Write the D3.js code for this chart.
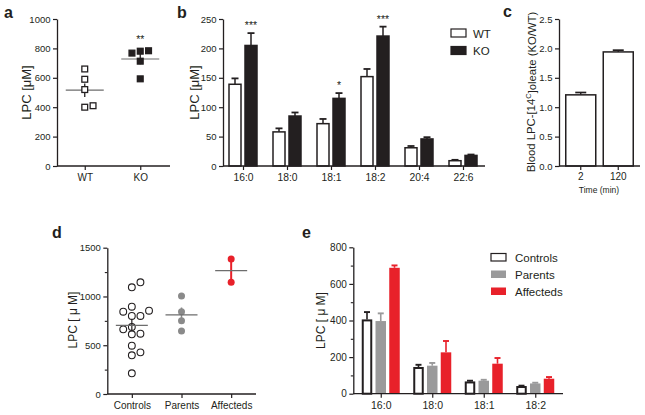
<!DOCTYPE html>
<html><head><meta charset="utf-8">
<script src="https://cdn.jsdelivr.net/npm/d3@7"></script>
<style>
html,body{margin:0;padding:0;background:#fff;}
svg{display:block;font-family:"Liberation Sans",Arial,Helvetica,sans-serif;}
.tick text{fill:#231f20;}
</style></head>
<body>
<svg id="fig" width="645" height="415"></svg>
<script>
// ---------- DATA ----------
// Panel a
const aGroups = ["WT", "KO"];
const aWT = [660, 590, 520, 400, 410];
const aKO = [781, 784, 768, 713, 593];
const aMeans = [516, 728];
const aSEM = [46, 35];
const aTicks = [0, 200, 400, 600, 800, 1000];
const aStars = ["", "**"];

// Panel b
const bCategories = ["16:0", "18:0", "18:1", "18:2", "20:4", "22:6"];
const bSeries = ["WT", "KO"];
const bWT = [139, 58, 72, 152, 31, 9];
const bWTErr = [10, 6, 8, 13, 3, 1.5];
const bKO = [205, 85, 115, 221, 46, 18];
const bKOErr = [21, 6, 9, 16, 3, 1.5];
const bStars = ["***", "", "*", "***", "", ""];
const bTicks = [0, 50, 100, 150, 200, 250];

// Panel c
const cTimes = ["2", "120"];
const cRatio = [1.21, 1.94];
const cErr = [0.04, 0.03];
const cTicks = [0, 0.5, 1.0, 1.5, 2.0, 2.5];

// Panel d
const dGroups = ["Controls", "Parents", "Affecteds"];
const dControls = [1094, 1145, 895, 800, 800, 844, 854, 612, 618, 663, 687, 495, 397, 427, 212];
const dParents = [1005, 844, 752, 646];
const dAffecteds = [1384, 1145];
const dMeans = [703, 812, 1264];
const dSEM = [60, 75, 120];
const dTicks = [0, 500, 1000, 1500];
const dMinorTicks = [250, 750, 1250];

// Panel e
const eCategories = ["16:0", "18:0", "18:1", "18:2"];
const eSeries = ["Controls", "Parents", "Affecteds"];
const eControls = [406, 146, 67, 42];
const eControlsErr = [40, 12, 4, 2];
const eParents = [397, 153, 71, 56];
const eParentsErr = [42, 15, 5, 4];
const eAffecteds = [688, 226, 164, 82];
const eAffectedsErr = [13, 62, 31, 9];
const eTicks = [0, 200, 400, 600, 800];
const eMinorTicks = [100, 300, 500, 700];

// ---------- STYLE ----------
const INK = "#231f20";
const RED = "#e8212a";
const GREY_DOT = "#8a8a8a";
const GREY_BAR = "#9a9a9b";
const MEANLINE = "#6d6d6d";

const svg = d3.select("#fig");

function yAxis(g, scale, x, ticks, fmt, fs, minor) {
  const ax = d3.axisLeft(scale).tickValues(ticks).tickSize(4).tickSizeOuter(0).tickPadding(2.5).tickFormat(fmt);
  const G = g.append("g").attr("transform", `translate(${x},0)`).call(ax);
  G.select(".domain").attr("stroke", INK).attr("stroke-width", 1.3);
  G.selectAll(".tick line").attr("stroke", INK).attr("stroke-width", 1.2);
  G.selectAll(".tick text").attr("font-size", fs).attr("fill", INK);
  if (minor) {
    const M = g.append("g").attr("transform", `translate(${x},0)`)
      .call(d3.axisLeft(scale).tickValues(minor).tickSize(2.5).tickFormat(""));
    M.select(".domain").remove();
    M.selectAll(".tick line").attr("stroke", INK).attr("stroke-width", 1.1);
  }
}
function xAxis(g, scale, y, x0, x1, fs, pad) {
  g.append("line").attr("x1", x0).attr("x2", x1).attr("y1", y).attr("y2", y)
    .attr("stroke", INK).attr("stroke-width", 1.3);
  const ax = d3.axisBottom(scale).tickSize(4).tickSizeOuter(0).tickPadding(pad || 3);
  const G = g.append("g").attr("transform", `translate(0,${y})`).call(ax);
  G.select(".domain").remove();
  G.selectAll(".tick line").attr("stroke", INK).attr("stroke-width", 1.2);
  G.selectAll(".tick text").attr("font-size", fs).attr("fill", INK);
}
function yLabel(g, text, x, y, fs) {
  return g.append("text").attr("transform", `translate(${x},${y}) rotate(-90)`)
    .attr("text-anchor", "middle").attr("dy", "0.35em")
    .attr("font-size", fs).attr("fill", INK).text(text);
}
function panelLetter(text, x, y) {
  svg.append("text").attr("x", x).attr("y", y).attr("font-size", 16)
    .attr("font-weight", "bold").attr("fill", INK).text(text);
}
function swarm(values, y, step, minDist) {
  const placed = [];
  const cands = [0];
  for (let k = 1; k < 8; k++) cands.push(k * step, -k * step);
  return values.map(v => {
    const py = y(v);
    for (const dx of cands) {
      if (placed.every(p => Math.hypot(p.dx - dx, p.py - py) >= minDist)) {
        placed.push({dx, py}); return dx;
      }
    }
    placed.push({dx: 0, py}); return 0;
  });
}
function errUp(g, cx, yTop, yErr, cap, color, w) {
  g.append("line").attr("x1", cx).attr("x2", cx).attr("y1", yTop).attr("y2", yErr)
    .attr("stroke", color).attr("stroke-width", w);
  g.append("line").attr("x1", cx - cap / 2).attr("x2", cx + cap / 2).attr("y1", yErr).attr("y2", yErr)
    .attr("stroke", color).attr("stroke-width", w + 0.3);
}

// ---------- PANEL A ----------
{
  const g = svg.append("g");
  const y = d3.scaleLinear().domain([0, 1000]).range([166, 19]);
  const x = d3.scalePoint().domain(aGroups).range([57, 168]).padding(0.5);
  yAxis(g, y, 57, aTicks, d3.format("d"), 9.5);
  xAxis(g, x, 166, 57, 170, 10, 3.5);
  yLabel(g, "LPC [μM]", 26, 92.5, 13);
  const sets = [aWT, aKO];
  sets.forEach((vals, i) => {
    const cx = x(aGroups[i]);
    g.append("line").attr("x1", cx - 19).attr("x2", cx + 19).attr("y1", y(aMeans[i])).attr("y2", y(aMeans[i]))
      .attr("stroke", MEANLINE).attr("stroke-width", 1.2);
    g.append("line").attr("x1", cx).attr("x2", cx).attr("y1", y(aMeans[i] - aSEM[i])).attr("y2", y(aMeans[i] + aSEM[i]))
      .attr("stroke", INK).attr("stroke-width", 1.3);
    const offs = swarm(vals, y, 8.3, 6.5);
    const s = 5.8;
    vals.forEach((v, j) => {
      g.append("rect").attr("x", cx + offs[j] - s / 2).attr("y", y(v) - s / 2).attr("width", s).attr("height", s)
        .attr("fill", i === 0 ? "#fff" : INK).attr("stroke", INK).attr("stroke-width", 1.3);
    });
    if (aStars[i]) g.append("text").attr("x", cx).attr("y", 43).attr("text-anchor", "middle")
      .attr("font-size", 10.5).attr("fill", INK).text(aStars[i]);
  });
  panelLetter("a", 4, 17.5);
}

// ---------- PANEL B ----------
{
  const g = svg.append("g");
  const y = d3.scaleLinear().domain([0, 250]).range([166, 19]);
  const x = d3.scalePoint().domain(bCategories).range([221, 485]).padding(0.5);
  const bw = 12;
  bCategories.forEach((c, i) => {
    const cx = x(c);
    errUp(g, cx - 8, y(bWT[i]), y(bWT[i] + bWTErr[i]), 7, INK, 1.5);
    g.append("rect").attr("x", cx - 14).attr("y", y(bWT[i])).attr("width", bw).attr("height", y(0) - y(bWT[i]))
      .attr("fill", "#fff").attr("stroke", INK).attr("stroke-width", 1.5);
    errUp(g, cx + 8, y(bKO[i]), y(bKO[i] + bKOErr[i]), 7, INK, 1.5);
    g.append("rect").attr("x", cx + 2).attr("y", y(bKO[i])).attr("width", bw).attr("height", y(0) - y(bKO[i]))
      .attr("fill", INK).attr("stroke", INK).attr("stroke-width", 1.5);
    if (bStars[i]) g.append("text").attr("x", cx + 8).attr("y", y(bKO[i] + bKOErr[i]) - 4)
      .attr("text-anchor", "middle").attr("font-size", 10.5).attr("fill", INK).text(bStars[i]);
  });
  yAxis(g, y, 223, bTicks, d3.format("d"), 9.5);
  xAxis(g, x, 166, 223, 485, 10.3, 4);
  yLabel(g, "LPC [μM]", 194, 92.5, 13);
  bSeries.forEach((s, i) => {
    const yy = 29 + i * 17.5;
    g.append("rect").attr("x", 451).attr("y", yy).attr("width", 15).attr("height", 8)
      .attr("fill", i === 0 ? "#fff" : INK).attr("stroke", INK).attr("stroke-width", 1.2);
    g.append("text").attr("x", 473).attr("y", yy + 8.5).attr("font-size", 11.5).attr("fill", INK).text(s);
  });
  panelLetter("b", 177, 17.5);
}

// ---------- PANEL C ----------
{
  const g = svg.append("g");
  const y = d3.scaleLinear().domain([0, 2.5]).range([166, 19]);
  const x = d3.scaleBand().domain(cTimes).range([562, 637]).paddingInner(0.2).paddingOuter(0.1);
  cTimes.forEach((t, i) => {
    const cx = x(t) + x.bandwidth() / 2;
    errUp(g, cx, y(cRatio[i]), y(cRatio[i] + cErr[i]), 11, INK, 1.4);
    g.append("rect").attr("x", x(t)).attr("y", y(cRatio[i])).attr("width", x.bandwidth()).attr("height", y(0) - y(cRatio[i]))
      .attr("fill", "#fff").attr("stroke", INK).attr("stroke-width", 1.5);
  });
  yAxis(g, y, 559, cTicks, d3.format(".1f"), 9.5);
  xAxis(g, x, 166, 559, 640, 10, 3);
  const lab = g.append("text").attr("transform", "translate(531.5,92) rotate(-90)")
    .attr("text-anchor", "middle").attr("dy", "0.35em").attr("font-size", 11.3).attr("fill", INK);
  lab.append("tspan").text("Blood LPC-[14");
  lab.append("tspan").attr("font-size", 7.5).attr("dy", "-0.55em").text("C");
  lab.append("tspan").attr("dy", "0.4em").text("]oleate (KO/WT)");
  g.append("text").attr("x", 599).attr("y", 193).attr("text-anchor", "middle").attr("font-size", 8.5)
    .attr("fill", INK).text("Time (min)");
  panelLetter("c", 503, 17);
}

// ---------- PANEL D ----------
{
  const g = svg.append("g");
  const y = d3.scaleLinear().domain([0, 1500]).range([394, 247.7]);
  const x = d3.scalePoint().domain(dGroups).range([107, 256]).padding(0.5);
  yAxis(g, y, 107.3, dTicks, d3.format("d"), 9.5, dMinorTicks);
  xAxis(g, x, 394, 107.3, 256, 10, 4);
  yLabel(g, "LPC [ μ M]", 72.5, 320, 12);
  {
    const cx = x("Controls");
    const offs = swarm(dControls, y, 8.6, 6.3);
    dControls.forEach((v, j) => {
      g.append("circle").attr("cx", cx + offs[j]).attr("cy", y(v)).attr("r", 3.4)
        .attr("fill", "#fff").attr("stroke", INK).attr("stroke-width", 1.1);
    });
    g.append("line").attr("x1", cx).attr("x2", cx).attr("y1", y(dMeans[0] - dSEM[0])).attr("y2", y(dMeans[0] + dSEM[0]))
      .attr("stroke", INK).attr("stroke-width", 1.2);
    g.append("line").attr("x1", cx - 16).attr("x2", cx + 16).attr("y1", y(dMeans[0])).attr("y2", y(dMeans[0]))
      .attr("stroke", MEANLINE).attr("stroke-width", 1.2);
  }
  {
    const cx = x("Parents");
    const offs = swarm(dParents, y, 8.6, 6.3);
    g.append("line").attr("x1", cx).attr("x2", cx).attr("y1", y(dMeans[1] - dSEM[1])).attr("y2", y(dMeans[1] + dSEM[1]))
      .attr("stroke", GREY_DOT).attr("stroke-width", 1.5);
    dParents.forEach((v, j) => {
      g.append("circle").attr("cx", cx + offs[j]).attr("cy", y(v)).attr("r", 3.5).attr("fill", GREY_DOT);
    });
    g.append("line").attr("x1", cx - 16).attr("x2", cx + 16).attr("y1", y(dMeans[1])).attr("y2", y(dMeans[1]))
      .attr("stroke", MEANLINE).attr("stroke-width", 1.2);
  }
  {
    const cx = x("Affecteds");
    g.append("line").attr("x1", cx).attr("x2", cx).attr("y1", y(d3.min(dAffecteds))).attr("y2", y(d3.max(dAffecteds)))
      .attr("stroke", RED).attr("stroke-width", 2);
    dAffecteds.forEach(v => {
      g.append("circle").attr("cx", cx).attr("cy", y(v)).attr("r", 3.5).attr("fill", RED);
    });
    g.append("line").attr("x1", cx - 16).attr("x2", cx + 16).attr("y1", y(dMeans[2])).attr("y2", y(dMeans[2]))
      .attr("stroke", MEANLINE).attr("stroke-width", 1.2);
  }
  panelLetter("d", 52, 238);
}

// ---------- PANEL E ----------
{
  const g = svg.append("g");
  const y = d3.scaleLinear().domain([0, 800]).range([393.7, 247.3]);
  const x = d3.scalePoint().domain(eCategories).range([355, 561]).padding(0.5);
  const vals = [eControls, eParents, eAffecteds];
  const errs = [eControlsErr, eParentsErr, eAffectedsErr];
  const fills = ["#fff", GREY_BAR, RED];
  const strokes = [INK, GREY_BAR, RED];
  const offsets = [-19, -5.25, 8.5];
  const bw = 10.5;
  eCategories.forEach((c, i) => {
    const cx = x(c);
    vals.forEach((arr, k) => {
      const left = cx + offsets[k];
      errUp(g, left + bw / 2, y(arr[i]), y(arr[i] + errs[k][i]), 6, strokes[k], 1.6);
      const sw = k === 0 ? 2 : 0;
      g.append("rect").attr("x", left + sw / 2).attr("y", y(arr[i]) + sw / 2)
        .attr("width", bw - sw).attr("height", Math.max(0, y(0) - y(arr[i]) - sw / 2))
        .attr("fill", fills[k]).attr("stroke", k === 0 ? INK : "none").attr("stroke-width", sw);
    });
  });
  yAxis(g, y, 353.3, eTicks, d3.format("d"), 10, eMinorTicks);
  xAxis(g, x, 393.7, 353.3, 563, 10.5, 4);
  yLabel(g, "LPC [ μ M]", 321, 320.5, 12);
  eSeries.forEach((s, i) => {
    const yy = 253.5 + i * 17;
    g.append("rect").attr("x", 491).attr("y", yy).attr("width", 15).attr("height", 7.5)
      .attr("fill", fills[i]).attr("stroke", i === 0 ? INK : "none").attr("stroke-width", 1.2);
    g.append("text").attr("x", 515).attr("y", yy + 8.5).attr("font-size", 11.5).attr("fill", INK).text(s);
  });
  panelLetter("e", 302, 238);
}
</script>
</body></html>
